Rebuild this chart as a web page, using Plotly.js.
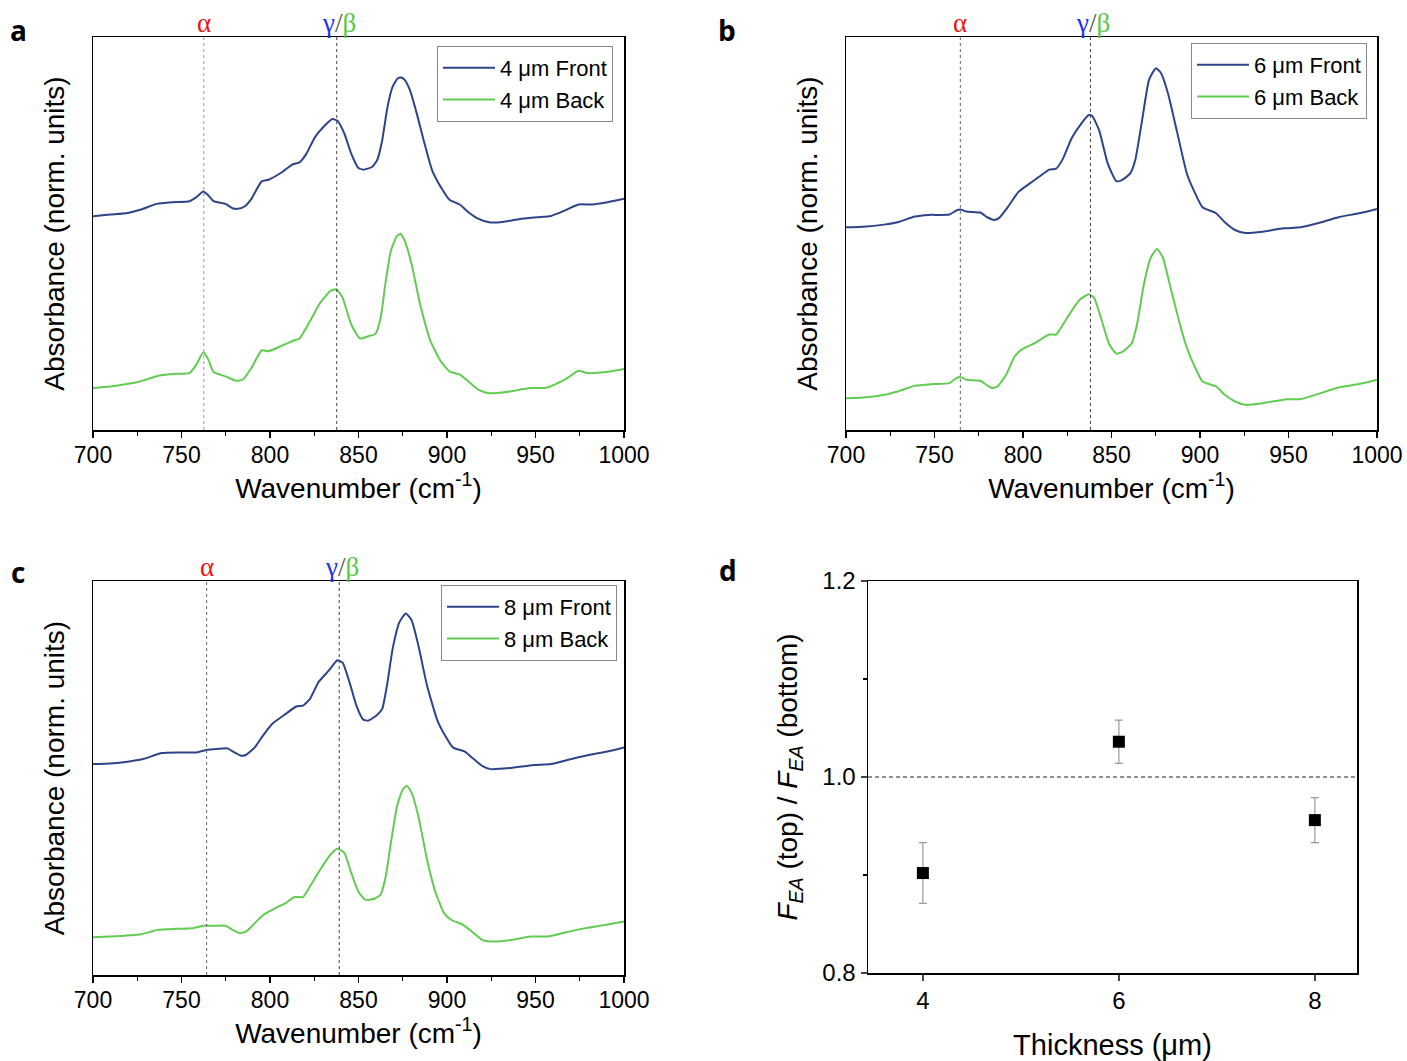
<!DOCTYPE html>
<html><head><meta charset="utf-8">
<script src="https://cdn.plot.ly/plotly-3.0.1.min.js"></script>
<style>html,body{margin:0;padding:0;background:#fff}#chart{width:1407px;height:1061px}</style>
</head><body><div id="chart"></div>
<script>
// ---- Panel a (4 µm) ----
const aFrontWave=[700,709.7,719.5,727.2,736.0,744.7,754.5,758.4,762.3,765.2,768.1,774.9,778.8,781.7,785.6,789.5,795.3,799.2,806.0,812.8,816.7,820.6,825.5,830.3,835.2,838.1,842.0,845.9,849.8,852.7,857.6,860.5,863.4,866.4,869.3,872.2,874.1,876.1,879.0,882.9,886.8,891.6,896.5,901.4,907.2,912.1,917.9,923.7,931.5,941.2,951.0,958.8,966.5,974.3,982.1,989.9,1000];
const aFrontAbs=[0.638,0.643,0.648,0.658,0.675,0.680,0.683,0.695,0.712,0.700,0.683,0.675,0.662,0.660,0.667,0.690,0.742,0.747,0.767,0.793,0.799,0.825,0.875,0.905,0.928,0.923,0.885,0.825,0.783,0.777,0.785,0.805,0.865,0.965,1.025,1.050,1.052,1.045,1.015,0.945,0.865,0.775,0.725,0.687,0.673,0.650,0.630,0.620,0.621,0.630,0.635,0.639,0.655,0.673,0.673,0.679,0.690];
const aBackWave=[700,709.7,725.3,737.0,746.7,754.5,758.4,762.3,765.2,768.1,774.9,780.7,784.6,789.5,795.3,799.2,806.0,813.8,816.7,822.6,828.4,834.2,837.5,841.0,845.9,850.8,855.6,859.6,862.5,865.4,868.3,871.8,873.8,876.1,880.0,884.8,890.7,896.5,901.4,907.2,912.1,917.9,923.7,931.5,947.1,956.8,966.5,974.3,979.2,989.9,1000];
const aBackAbs=[0.125,0.130,0.143,0.162,0.168,0.170,0.195,0.232,0.210,0.173,0.160,0.147,0.150,0.185,0.238,0.235,0.250,0.268,0.273,0.325,0.380,0.415,0.420,0.395,0.315,0.273,0.280,0.287,0.335,0.445,0.535,0.580,0.585,0.565,0.495,0.375,0.265,0.205,0.175,0.165,0.145,0.120,0.110,0.112,0.125,0.127,0.150,0.177,0.170,0.173,0.182];
// ---- Panel b (6 µm) ----
const bFrontWave=[700,709.7,721.4,729.2,738.9,746.7,758.4,762.3,764.6,768.1,775.9,779.8,783.7,786.6,791.4,797.3,803.1,808.9,814.8,818.7,822.6,827.4,832.3,837.2,839.1,843.0,847.9,852.7,855.6,860.5,863.4,867.3,871.2,875.1,878.0,881.9,886.8,892.6,896.5,901.4,909.1,914.0,919.8,925.7,935.4,947.1,956.8,966.5,978.2,989.9,1000];
const bFrontAbs=[0.605,0.607,0.613,0.620,0.637,0.642,0.643,0.655,0.658,0.652,0.649,0.635,0.627,0.633,0.665,0.710,0.733,0.755,0.777,0.780,0.810,0.870,0.910,0.940,0.937,0.895,0.795,0.743,0.745,0.765,0.805,0.925,1.045,1.080,1.065,1.005,0.895,0.765,0.715,0.665,0.647,0.620,0.597,0.588,0.592,0.602,0.605,0.617,0.635,0.647,0.660];
const bBackWave=[700,709.7,723.3,729.2,738.9,748.6,758.4,762.3,764.6,768.1,775.9,779.8,782.7,785.6,790.5,795.3,799.2,807.0,814.8,818.7,822.6,827.4,832.3,837.2,840.1,844.0,848.8,852.7,856.6,861.5,864.4,868.3,872.2,875.7,879.0,883.8,888.7,892.6,896.5,901.4,909.1,914.0,919.8,925.7,935.4,949.0,956.8,966.5,978.2,989.9,1000];
const bBackAbs=[0.095,0.097,0.107,0.115,0.132,0.137,0.140,0.155,0.158,0.150,0.147,0.133,0.125,0.130,0.165,0.220,0.240,0.260,0.285,0.285,0.315,0.355,0.390,0.405,0.395,0.335,0.255,0.228,0.235,0.260,0.315,0.435,0.515,0.540,0.515,0.415,0.315,0.245,0.195,0.145,0.130,0.105,0.085,0.075,0.080,0.092,0.092,0.107,0.127,0.137,0.150];
// ---- Panel c (8 µm) ----
const cFrontWave=[700,709.7,719.5,728.2,738.9,748.6,758.4,764.2,770.0,775.9,779.8,783.7,786.6,791.4,795.3,801.2,808.9,814.8,818.7,822.6,827.4,833.3,838.1,841.0,844.9,848.8,852.7,855.6,860.5,863.4,866.4,869.3,873.2,876.7,880.0,883.8,888.7,894.6,898.4,903.3,910.1,914.0,919.8,924.7,935.4,949.0,958.8,968.5,978.2,989.9,1000];
const cFrontAbs=[0.630,0.632,0.637,0.645,0.663,0.665,0.665,0.672,0.675,0.677,0.665,0.655,0.658,0.680,0.710,0.750,0.780,0.802,0.805,0.825,0.875,0.910,0.940,0.933,0.875,0.805,0.763,0.760,0.777,0.795,0.875,0.975,1.055,1.080,1.060,0.985,0.865,0.760,0.720,0.680,0.667,0.650,0.625,0.615,0.618,0.627,0.630,0.643,0.655,0.667,0.680];
const cBackWave=[700,709.7,727.2,737.0,746.7,756.4,763.2,768.1,774.9,778.8,782.7,786.6,791.4,796.3,803.1,808.9,813.8,818.7,822.6,828.4,834.2,838.1,842.0,845.9,849.8,853.7,858.6,862.5,865.4,868.3,871.8,875.1,877.4,880.0,883.8,888.7,893.6,898.4,902.3,909.1,914.0,919.8,925.7,937.4,947.1,956.8,966.5,978.2,989.9,1000];
const cBackAbs=[0.113,0.115,0.122,0.135,0.138,0.140,0.148,0.147,0.147,0.135,0.125,0.130,0.155,0.180,0.200,0.215,0.233,0.233,0.265,0.315,0.360,0.377,0.365,0.305,0.250,0.225,0.227,0.240,0.295,0.395,0.505,0.555,0.565,0.545,0.475,0.345,0.245,0.185,0.165,0.150,0.130,0.105,0.100,0.105,0.115,0.115,0.127,0.140,0.150,0.160];
// ---- Panel d ----
const thickness=[4,6,8];
const ratio=[0.902,1.036,0.956];
const ratioErr=[0.031,0.022,0.023];
// marker line positions (alpha, gamma/beta) per panel
const alphaPos=[762.6,764.6,764.2];
const gbPos=[837.7,838.1,839.1];
const legendNames=[["4 μm Front","4 μm Back"],["6 μm Front","6 μm Back"],["8 μm Front","8 μm Back"]];

const BLUE='#2f4488', GREEN='#62cc52';
const FONT='Liberation Sans';
const px=(v)=>v/1407, py=(v)=>1-v/1061;

const specs=[
 {fw:aFrontWave,fa:aFrontAbs,bw:aBackWave,ba:aBackAbs,xa:'x',ya:'y',leg:'legend'},
 {fw:bFrontWave,fa:bFrontAbs,bw:bBackWave,ba:bBackAbs,xa:'x2',ya:'y2',leg:'legend2'},
 {fw:cFrontWave,fa:cFrontAbs,bw:cBackWave,ba:cBackAbs,xa:'x3',ya:'y3',leg:'legend3'}
];
const data=[];
specs.forEach((s,i)=>{
  data.push({x:s.fw,y:s.fa,xaxis:s.xa,yaxis:s.ya,type:'scatter',mode:'lines',name:legendNames[i][0],legend:s.leg,
    line:{color:BLUE,width:2,shape:'spline',smoothing:0.5}});
  data.push({x:s.bw,y:s.ba,xaxis:s.xa,yaxis:s.ya,type:'scatter',mode:'lines',name:legendNames[i][1],legend:s.leg,
    line:{color:GREEN,width:2,shape:'spline',smoothing:0.5}});
});
data.push({x:thickness,y:ratio,xaxis:'x4',yaxis:'y4',type:'scatter',mode:'markers',showlegend:false,
  marker:{symbol:'square',size:12,color:'#000'},
  error_y:{type:'data',array:ratioErr,visible:true,color:'#999',thickness:1.2,width:4}});

const tickFont={family:FONT,size:23,color:'#000'};
function specX(dom,anchor){return {domain:dom,anchor:anchor,range:[700,1000],tickvals:[700,750,800,850,900,950,1000],
  ticks:'outside',ticklen:6,tickwidth:1.3,tickcolor:'#000',showline:true,linecolor:'#000',linewidth:1.5,mirror:true,
  showgrid:false,zeroline:false,tickfont:tickFont,ticklabelstandoff:-2,
  minor:{ticks:'outside',dtick:25,tick0:700,ticklen:4,tickwidth:1.2,tickcolor:'#000',showgrid:false},
  title:{text:'Wavenumber (cm<sup>-1</sup>)',font:{family:FONT,size:28,color:'#000'},standoff:4}};}
function specY(dom,anchor,top){return {domain:dom,anchor:anchor,range:[0,top],showticklabels:false,ticks:'',
  showline:true,linecolor:'#000',linewidth:1.5,mirror:true,showgrid:false,zeroline:false,
  title:{text:'Absorbance (norm. units)',font:{family:FONT,size:28,color:'#000'},standoff:18}};}

const domA=[px(93),px(624)], domB=[px(846),px(1377)];
const yTop=[py(430),py(37)], yBot=[py(975),py(581)];

const shapes=[], annotations=[];
const xs=['x','x2','x3'], ys=['y','y2','y3'];
for(let i=0;i<3;i++){
  shapes.push({type:'line',xref:xs[i],yref:ys[i]+' domain',x0:alphaPos[i],x1:alphaPos[i],y0:0,y1:1,line:{color:i===0?'#999':'#666',width:1,dash:'dot'}});
  shapes.push({type:'line',xref:xs[i],yref:ys[i]+' domain',x0:gbPos[i],x1:gbPos[i],y0:0,y1:1,line:{color:'#444',width:1,dash:'dot'}});
  annotations.push({xref:xs[i],yref:ys[i]+' domain',x:alphaPos[i],y:1,yanchor:'bottom',yshift:-3,showarrow:false,
    text:'α',font:{family:'Liberation Serif',size:27,color:'#ee1111'}});
  annotations.push({xref:xs[i],yref:ys[i]+' domain',x:gbPos[i]+1.5,y:1,yanchor:'bottom',yshift:-3,showarrow:false,
    text:'<span style="color:#2233ee">γ</span><span style="color:#555">/</span><span style="color:#55c844">β</span>',
    font:{family:'Liberation Serif',size:27,color:'#555'}});
}
// dashed reference line at 1.0 in panel d
shapes.push({type:'line',xref:'x4 domain',yref:'y4',x0:0,x1:1,y0:1.0,y1:1.0,line:{color:'#222',width:1,dash:'4px,3px'}});

const labFont={family:'Open Sans',size:28,color:'#000',weight:'bold'};
[['a',18,30],['b',727,30],['c',18,572],['d',728,570]].forEach(l=>{
  annotations.push({xref:'paper',yref:'paper',x:px(l[1]),y:py(l[2]),xanchor:'center',yanchor:'middle',showarrow:false,
    text:'<b>'+l[0]+'</b>',font:labFont});
});

const legStyle=(x,y)=>({x:x,y:y,xanchor:'left',yanchor:'top',bgcolor:'#fff',bordercolor:'#888',borderwidth:1,
  font:{family:FONT,size:22,color:'#000'},tracegroupgap:0,itemwidth:52});

const layout={
  width:1407,height:1061,paper_bgcolor:'#fff',plot_bgcolor:'#fff',
  margin:{l:0,r:0,t:0,b:0},
  showlegend:true,
  xaxis:specX(domA,'y'), yaxis:specY(yTop,'x',1.173),
  xaxis2:specX(domB,'y2'), yaxis2:specY(yTop,'x2',1.173),
  xaxis3:specX(domA,'y3'), yaxis3:specY(yBot,'x3',1.177),
  xaxis4:{domain:[px(868),px(1357)],anchor:'y4',range:[3.44,8.43],tickvals:[4,6,8],ticks:'outside',ticklen:6,tickwidth:1.3,
    showline:true,linecolor:'#000',linewidth:1.5,mirror:true,showgrid:false,zeroline:false,
    tickfont:{family:FONT,size:24,color:'#000'},
    title:{text:'Thickness (μm)',font:{family:FONT,size:29,color:'#000'},standoff:22}},
  yaxis4:{domain:[py(973),py(581)],anchor:'x4',range:[0.8,1.2],tickvals:[0.8,1.0,1.2],ticktext:['0.8','1.0','1.2'],
    ticks:'outside',ticklen:6,tickwidth:1.3,showline:true,linecolor:'#000',linewidth:1.5,mirror:true,showgrid:false,zeroline:false,
    tickfont:{family:FONT,size:24,color:'#000'},
    minor:{ticks:'outside',tickvals:[0.9,1.1],ticklen:4,tickwidth:1.2,tickcolor:'#000',showgrid:false},
    title:{text:'<i>F</i><sub><i>EA</i></sub> (top) / <i>F</i><sub><i>EA</i></sub> (bottom)',font:{family:FONT,size:28,color:'#000'},standoff:16}},
  legend:legStyle(px(437),py(46)),
  legend2:legStyle(px(1191),py(43)),
  legend3:legStyle(px(441),py(585)),
  shapes:shapes, annotations:annotations
};
Plotly.newPlot('chart',data,layout,{staticPlot:true,displayModeBar:false});
</script></body></html>
